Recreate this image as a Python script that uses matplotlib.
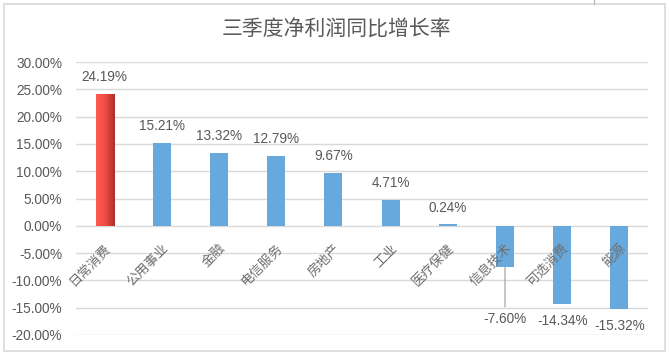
import numpy as np
import matplotlib
matplotlib.use('Agg')
import matplotlib.pyplot as plt
from matplotlib.colors import LinearSegmentedColormap
from matplotlib.patches import Rectangle
from matplotlib.lines import Line2D

plt.rcParams['font.family'] = ['Liberation Sans', 'Noto Sans CJK SC', 'DejaVu Sans']

categories = ['日常消费', '公用事业', '金融', '电信服务', '房地产', '工业',
              '医疗保健', '信息技术', '可选消费', '能源']
growth = [24.19, 15.21, 13.32, 12.79, 9.67, 4.71, 0.24, -7.60, -14.34, -15.32]
yticks = [-20, -15, -10, -5, 0, 5, 10, 15, 20, 25, 30]

TEXT = '#595959'
GRID = '#D9D9D9'
BLUE = '#67A9DC'
CJK = ['Noto Sans CJK SC', 'DejaVu Sans']

W, H = 669, 356
fig = plt.figure(figsize=(W / 100, H / 100), dpi=100)

# plot area in pixels: x 76..648, y 62..335
ax = fig.add_axes([76 / W, 1 - 335 / H, (648 - 76) / W, (335 - 62) / H])
x = np.arange(len(categories))

bar_w = 0.315
bars = ax.bar(x, growth, width=bar_w, color=BLUE, zorder=3)

# first bar: red horizontal gradient
b0 = bars[0]
b0.set_facecolor('none')
cmap = LinearSegmentedColormap.from_list('red', ['#FF5B52', '#F04A44', '#A8302E'])
grad = np.linspace(0, 1, 256).reshape(1, -1)
im = ax.imshow(grad, cmap=cmap, aspect='auto', zorder=3,
               extent=[b0.get_x(), b0.get_x() + b0.get_width(), 0, growth[0]])
im.set_clip_path(b0)
ax.set_xlim(-0.5, len(categories) - 0.5)
ax.set_ylim(-20, 30)

ax.set_yticks(yticks)
ax.set_yticklabels(['%.2f%%' % v for v in yticks])
ax.tick_params(axis='y', length=0, pad=10, labelsize=9.8, labelcolor=TEXT)
ax.set_xticks([])
ax.grid(axis='y', color=GRID, linewidth=1, zorder=0)
for s in ax.spines.values():
    s.set_visible(False)

# category labels, rotated, just below the zero line
for i, name in enumerate(categories):
    ax.annotate(name, xy=(i, 0), xytext=(0, -11.5), textcoords='offset points',
                rotation=45, rotation_mode='anchor', ha='right', va='top',
                fontsize=9.5, color='#6E6E6E', family=CJK, fontweight='light',
                zorder=5)

# data labels
for i, v in enumerate(growth):
    lbl = '%.2f%%' % v
    if v >= 0:
        ax.annotate(lbl, xy=(i, v), xytext=(0, 12), textcoords='offset points',
                    ha='center', va='center', fontsize=9.8, color=TEXT)
    elif i == 7:
        # label pulled down with a leader line
        ax.annotate(lbl, xy=(i, v), xytext=(0, -37), textcoords='offset points',
                    ha='center', va='center', fontsize=9.8, color=TEXT,
                    arrowprops=dict(arrowstyle='-', color='#A6A6A6', lw=0.9,
                                    shrinkA=1.5, shrinkB=0))
    else:
        ax.annotate(lbl, xy=(i, v), xytext=(0, -12), textcoords='offset points',
                    ha='center', va='center', fontsize=9.8, color=TEXT)

fig.text(336 / W, 1 - 30 / H, '三季度净利润同比增长率', ha='center', va='center',
         fontsize=15, color=TEXT, family=CJK)

# chart border
fig.patches.append(Rectangle((3.5 / W, 1 - 350.5 / H), 661.5 / W, 347 / H,
                             transform=fig.transFigure, fill=False,
                             edgecolor=GRID, linewidth=1.2))
fig.lines.append(Line2D([594 / W, 594 / W], [1, 1 - 3.5 / H],
                        transform=fig.transFigure, color='#BFBFBF', linewidth=1))

fig.savefig('out.png', dpi=100)
